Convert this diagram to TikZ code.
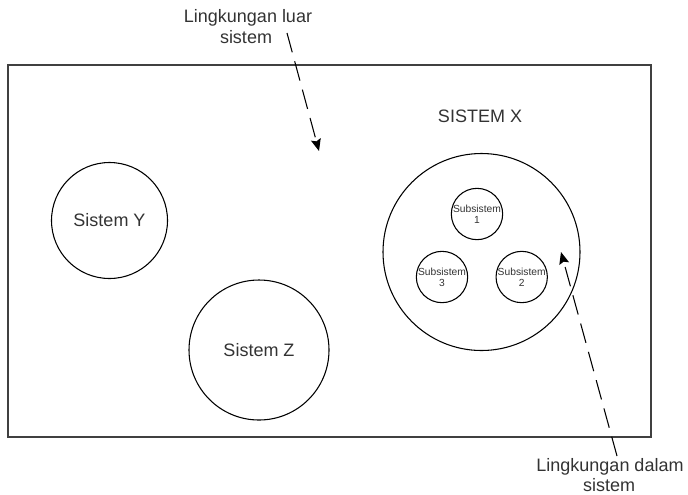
\documentclass[tikz,border=0pt]{standalone}
\usepackage{fontspec}
\setmainfont{Liberation Sans}
\usetikzlibrary{arrows.meta}
\definecolor{txt}{HTML}{333333}
\definecolor{frame}{HTML}{404040}
\tikzset{
  sys/.style={draw=black, line width=0.8pt, circle, inner sep=0pt, text=txt, font=\fontsize{13.5pt}{16pt}\selectfont},
  subsys/.style={draw=black, line width=0.8pt, circle, inner sep=0pt, text=txt, align=center, font=\fontsize{7.7pt}{8.2pt}\selectfont},
  lbl/.style={text=txt, inner sep=0pt, anchor=base, font=\fontsize{13.5pt}{16pt}\selectfont},
  pointer/.style={draw=black, line width=0.8pt, dash pattern=on 15pt off 7pt, -{Stealth[length=9pt,width=7.5pt,inset=1.5pt]}}
}
\begin{document}
\begin{tikzpicture}[x=0.75pt,y=-0.75pt]
\useasboundingbox (0,0) rectangle (688,494);
% environment frame
\draw[draw=frame, line width=1.3pt] (8,65) rectangle (651,437);
% systems
\node[sys, minimum size=116*0.75pt] (Y) at (109.5,220.5) {Sistem Y};
\node[sys, minimum size=140*0.75pt] (Z) at (259,350) {Sistem Z};
\node[sys, minimum size=197*0.75pt] (X) at (481.5,252) {};
\node[lbl] (Xlbl) at (480,122.3) {SISTEM X};
% subsystems
\node[subsys, minimum size=51*0.75pt] (S1) at (477,214) {Subsistem\\1};
\node[subsys, minimum size=51*0.75pt] (S3) at (442,277) {Subsistem\\3};
\node[subsys, minimum size=51*0.75pt] (S2) at (521.7,277) {Subsistem\\2};
% labels
\node[lbl] (L1a) at (248,22.7) {Lingkungan luar};
\node[lbl] (L1b) at (246,43) {sistem};
\node[lbl] (L2a) at (610,471.7) {Lingkungan dalam};
\node[lbl] (L2b) at (609,491.7) {sistem};
% pointers
\coordinate (outS) at (287,33);
\coordinate (outE) at (319,151);
\coordinate (inS) at (617,456);
\coordinate (inE) at (561,252);
\draw[pointer] (outS) -- (outE);
\draw[pointer] (inS) -- (inE);
\end{tikzpicture}
\end{document}
